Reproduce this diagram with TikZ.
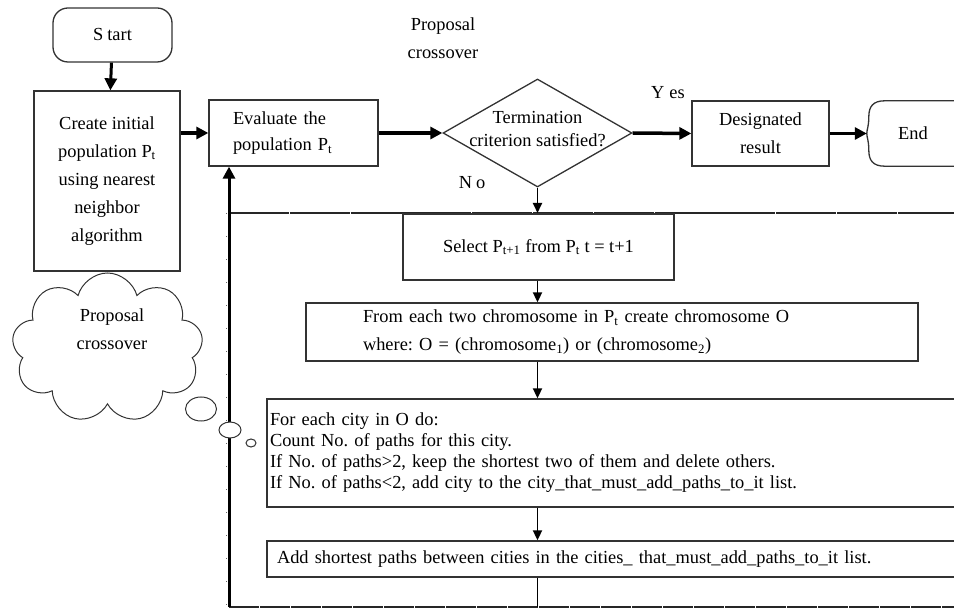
\documentclass[tikz,border=0pt]{standalone}
\usepackage{fontspec}
\setmainfont{Liberation Serif}
\usetikzlibrary{arrows.meta, shapes, positioning, calc}
\frenchspacing

\begin{document}
\begin{tikzpicture}[x=1pt, y=-1pt,
    box/.style={draw=black!80, line width=1.3pt, rectangle, inner sep=0pt},
    txt/.style={font=\fontsize{18.4}{21}\selectfont},
    flow/.style={line width=3.5pt, -{Triangle[length=12pt,width=12pt]}},
    thinflow/.style={line width=1.8pt, -{Triangle[length=10pt,width=9pt]}},
    frame/.style={draw=black!85, line width=2pt, dash pattern=on 60pt off 0.8pt}]
    \useasboundingbox (0,0) rectangle (954,609);

    % Draw terminals and main row
    \node[box, rounded corners=15pt, minimum width=119pt, minimum height=54pt, txt] (start) at (112.5,35) {S\kern4pt tart};
    \node[box, minimum width=146pt, minimum height=180pt, align=center, font=\fontsize{18.4}{28}\selectfont] (create) at (107,181) {Create initial\\population P\textsubscript{t}\\using nearest\\neighbor\\algorithm};
    \node[box, minimum height=66pt, inner xsep=24pt, text width=121pt, align=left, font=\fontsize{18.4}{26}\selectfont] (eval) at (293.5,133) {Evaluate the\\population P\textsubscript{t}};
    \node[draw=black!80, line width=1.3pt, diamond, aspect=1.75, minimum width=189pt, minimum height=108pt, inner sep=0pt] (term) at (537.5,133) {};
    \node[align=center, font=\fontsize{18.4}{23}\selectfont] (termtxt) at (537.5,129) {Termination\\criterion satisfied?};
    \node[box, minimum width=137pt, minimum height=65pt, align=center, font=\fontsize{18.4}{28}\selectfont] (result) at (760.5,133.5) {Designated\\result};
    \node[minimum width=92pt, minimum height=65pt, inner sep=0pt, txt] (endt) at (913,133.5) {End};
    \draw[draw=black!80, line width=1.3pt] ($(endt.north east)+(10,0)$) -- ($(endt.north west)+(18,0)$)
        .. controls ($(endt.north west)+(6,0)$) and ($(endt.north west)+(2,6)$) .. ($(endt.north west)+(2,16)$)
        .. controls ($(endt.north west)+(2,26)$) and ($(endt.west)+(0,-4)$) .. (endt.west)
        .. controls ($(endt.west)+(0,4)$) and ($(endt.south west)+(2,-26)$) .. ($(endt.south west)+(2,-16)$)
        .. controls ($(endt.south west)+(2,-6)$) and ($(endt.south west)+(6,0)$) .. ($(endt.south west)+(18,0)$)
        -- ($(endt.south east)+(10,0)$);

    % Labels
    \node[align=center, font=\fontsize{18.4}{28}\selectfont] (proptop) at (443,38) {Proposal\\crossover};
    \node[txt] (yes) at (668,93) {Y\kern5pt es};
    \node[txt] (no) at (472,183) {N\kern4pt o};

    % Main arrows
    \draw[flow, line width=3pt] (start) -- (create);
    \draw[flow] (create.east |- eval.west) -- (eval.west);
    \draw[flow] (eval.east) -- (term.west);
    \draw[flow] (term.east) -- (result.west);
    \draw[flow] (result.east) -- (endt.west);

    % Loop frame
    \coordinate (looptop) at (229,213);
    \coordinate (loopbot) at (229,607);
    \draw[frame] (looptop) -- ++(740,0);
    \draw[frame, line width=2.8pt, dash pattern=on 30pt off 1pt] (loopbot) -- ++(740,0);
    \draw[draw=black!60, line width=0.8pt, dash pattern=on 1pt off 22pt] ($(looptop)+(-3,0)$) -- ($(loopbot)+(-3,0)$);
    \draw[flow, line width=3pt] (loopbot) -- (loopbot |- eval.south);

    % Loop body
    \node[box, minimum width=271pt, minimum height=66pt, txt] (select) at (538.5,247) {Select P\textsubscript{t+1} from P\textsubscript{t} t = t+1};
    \node[box, minimum height=58pt, inner xsep=57pt, text width=498pt, align=left, font=\fontsize{18.4}{28}\selectfont] (chrom) at (612,332) {\makebox[459pt][s]{From each two chromosome in P\textsubscript{t} create chromosome O}\\where: O = (chromosome\textsubscript{1}) or (chromosome\textsubscript{2})};
    \node[box, minimum height=108pt, inner xsep=3pt, text width=694pt, align=left, txt] (forbox) at (617,453) {For each city in O do:\\Count No. of paths for this city.\\If No. of paths>2, keep the shortest two of them and delete others.\\If No. of paths<2, add city to the city\_that\_must\_add\_paths\_to\_it list.};
    \node[box, minimum height=36pt, inner xsep=10pt, text width=680pt, align=left, txt] (addbox) at (617,559) {Add shortest paths between cities in the cities\_ that\_must\_add\_paths\_to\_it list.};

    \draw[thinflow] (term.south) -- (term.south |- looptop);
    \draw[thinflow] (term.south |- select.south) -- (term.south |- chrom.north);
    \draw[thinflow] (term.south |- chrom.south) -- (term.south |- forbox.north);
    \draw[thinflow] (term.south |- forbox.south) -- (term.south |- addbox.north);
    \draw[line width=1.3pt] (term.south |- addbox.south) -- (term.south |- loopbot);

    % Thought cloud
    \node[cloud, draw=black!80, line width=1pt, cloud puffs=9, cloud ignores aspect, minimum width=191pt, minimum height=150pt, inner sep=0pt] (cloud) at (107.5,348) {};
    \node[align=center, font=\fontsize{18.4}{28}\selectfont] (cloudtxt) at (112,329) {Proposal\\crossover};
    \node[ellipse, draw=black!80, line width=1pt, fill=white, minimum width=31pt, minimum height=24pt, inner sep=0pt] (bubA) at (201,409) {};
    \node[ellipse, draw=black!80, line width=1pt, fill=white, minimum width=22pt, minimum height=16pt, inner sep=0pt] (bubB) at (230,430) {};
    \node[ellipse, draw=black!80, line width=1pt, fill=white, minimum width=10pt, minimum height=8pt, inner sep=0pt] (bubC) at (251,443) {};
\end{tikzpicture}
\end{document}
